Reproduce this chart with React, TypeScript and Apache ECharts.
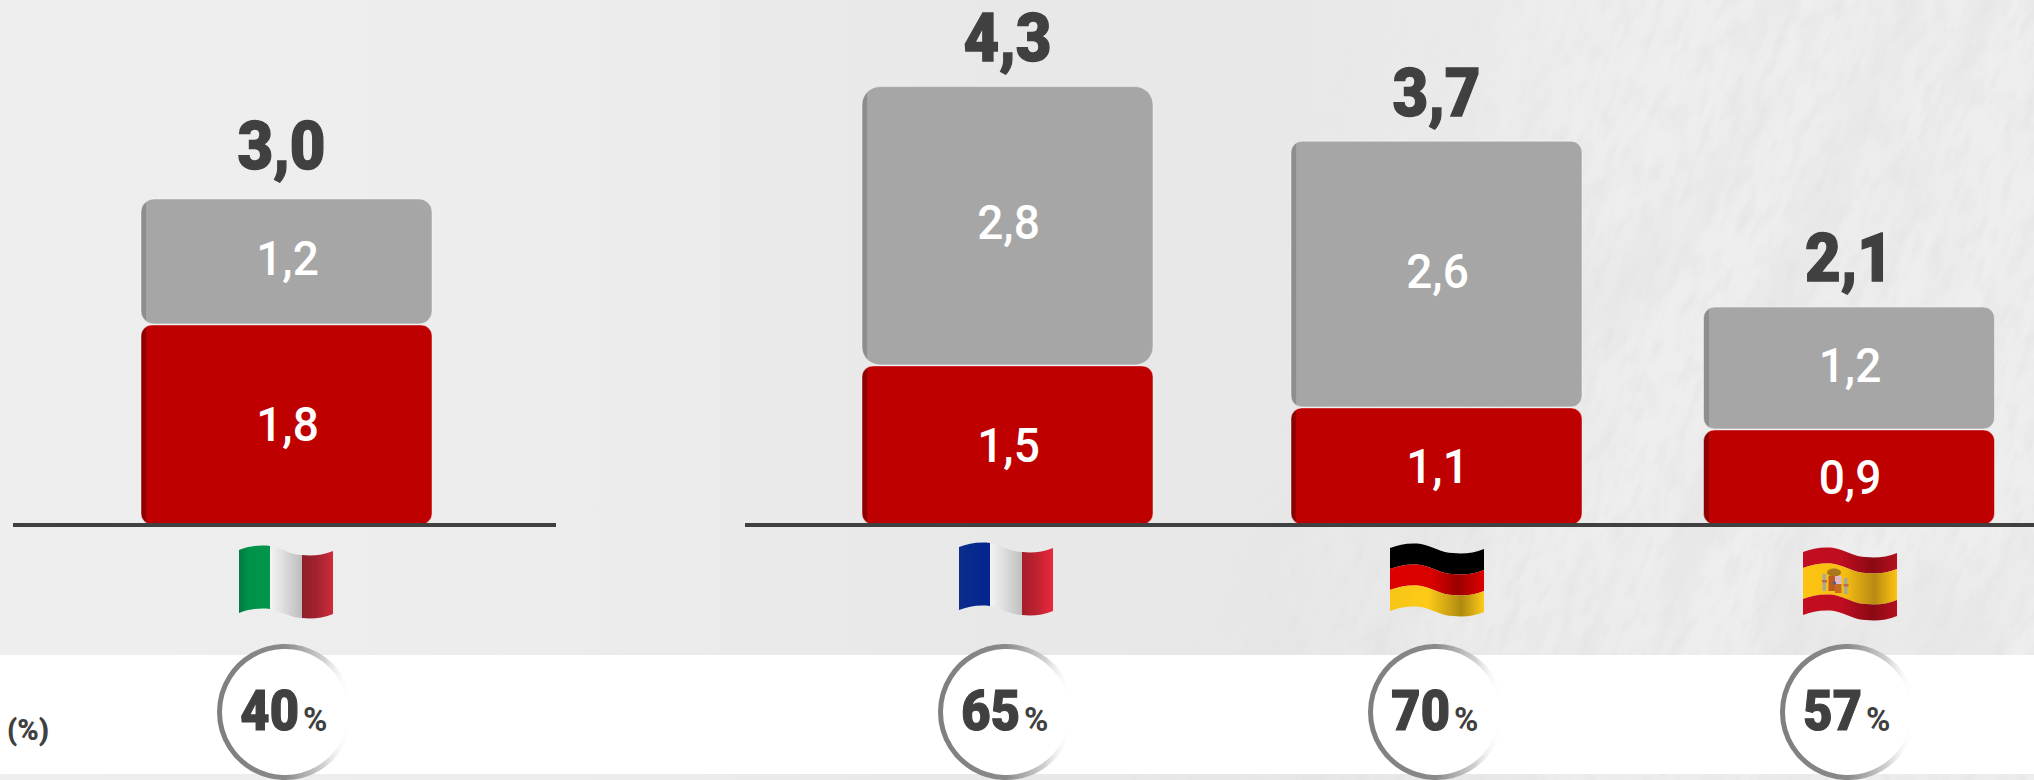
import React, { useEffect, useRef } from "react";
import * as echarts from "echarts";

const countries = ["Italia", "Francia", "Germania", "Spagna"];
// Printed figures
const redLabels = ["1,8", "1,5", "1,1", "0,9"];
const greyLabels = ["1,2", "2,8", "2,6", "1,2"];
const totalLabels = ["3,0", "4,3", "3,7", "2,1"];
const shareValues = ["40", "65", "70", "57"];
// Segment lengths as drawn in the picture (the source graphic is not strictly proportional)
const redLengths = [1.91, 1.52, 1.12, 0.91];
const greyLengths = [1.2, 2.66, 2.54, 1.17];

const W = 2034;
const H = 780;
const BASE = 525;
const gridX: [number, number][] = [
  [17, 556],
  [745, 1270],
  [1209, 1664],
  [1664, 2034],
];
const flagPos: [number, number][] = [
  [239, 545],
  [959, 542],
  [1390, 543],
  [1803, 547],
];
const circleX = [285, 1006, 1436, 1848];
const greyCorner = [13, 18, 11, 11];
const totalShift: [number, number][] = [
  [-5, -4],
  [0, 0],
  [0, 0],
  [0, 0],
];
const FONT = "Roboto, sans-serif";
const DARK = "#404040";

const band = (a: number, b: number) =>
  `M0,${5 + a} C9,${1.5 + a} 20,${-0.5 + a} 31,${1 + a} C42,${3 + a} 52,${10 + a} 63,${10 + a} C72,${11 + a} 84,${10.5 + a} 94,${6 + a} ` +
  `L94,${6 + b} C84,${10.5 + b} 72,${11 + b} 63,${10 + b} C52,${10 + b} 42,${3 + b} 31,${1 + b} C20,${-0.5 + b} 9,${1.5 + b} 0,${5 + b} Z`;

const reg = (n: string, d: string) => {
  echarts.graphic.registerShape(n, echarts.graphic.extendPath(d as any, {}) as any);
};
reg("vStripe1", "M0,5 C9,1.5 20,-0.5 31,1 L31,64 C20,62.5 9,64.5 0,68 Z");
reg("vStripe2", "M31,1 C42,3 52,10 63,10 L63,73 C52,73 42,66 31,64 Z");
reg("vStripe3", "M63,10 C72,11 84,10.5 94,6 L94,69 C84,73.5 72,74 63,73 Z");
reg("hBandA", band(0, 21));
reg("hBandB", band(21, 42));
reg("hBandC", band(42, 63));
reg("hBandS1", band(0, 16));
reg("hBandS2", band(16, 47));
reg("hBandS3", band(47, 63));

const lg = (stops: [number, string][]) =>
  new echarts.graphic.LinearGradient(0, 0, 1, 0, stops.map(([offset, color]) => ({ offset, color })));

const flagGroup = (i: number, parts: [string, [number, string][]][], extra: any[] = []) => ({
  type: "group",
  x: flagPos[i][0],
  y: flagPos[i][1],
  z: 10,
  children: [
    ...parts.map(([type, stops]) => ({ type, style: { fill: lg(stops) } })),
    ...extra,
  ],
});

const coat = [
  { type: "rect", shape: { x: 19.5, y: 27, width: 3.5, height: 17 }, style: { fill: "#a9ab8e" } },
  { type: "rect", shape: { x: 41, y: 31, width: 3.5, height: 16 }, style: { fill: "#a9ab8e" } },
  { type: "rect", shape: { x: 19, y: 33, width: 5, height: 2.5 }, style: { fill: "#c06a50" } },
  { type: "rect", shape: { x: 40.5, y: 37, width: 5, height: 2.5 }, style: { fill: "#c06a50" } },
  { type: "ellipse", shape: { cx: 31, cy: 25.5, rx: 7, ry: 4 }, style: { fill: "#a9781c" } },
  { type: "rect", shape: { x: 25.5, y: 29, width: 6.5, height: 15 }, style: { fill: "#bb5a22" } },
  { type: "rect", shape: { x: 32, y: 29, width: 6.5, height: 8 }, style: { fill: "#dfb9c8" } },
  { type: "rect", shape: { x: 32, y: 37, width: 6.5, height: 9 }, style: { fill: "#c96a22" } },
  { type: "circle", shape: { cx: 31.5, cy: 36, r: 1.6 }, style: { fill: "#4a5f8a" } },
];

const flags = [
  flagGroup(0, [
    ["vStripe1", [[0, "#007a43"], [0.3, "#009249"], [1, "#00964a"]]],
    ["vStripe2", [[0, "#f4f4f4"], [1, "#bdbdbd"]]],
    ["vStripe3", [[0, "#8f1f2a"], [0.45, "#a0222e"], [1, "#cf2b3b"]]],
  ]),
  flagGroup(1, [
    ["vStripe1", [[0, "#0b2d8c"], [1, "#02258f"]]],
    ["vStripe2", [[0, "#f4f4f4"], [1, "#c0c0c0"]]],
    ["vStripe3", [[0, "#a51e2a"], [0.45, "#bd2230"], [1, "#ea293d"]]],
  ]),
  flagGroup(2, [
    ["hBandA", [[0, "#000000"], [1, "#000000"]]],
    ["hBandB", [[0, "#dd0000"], [0.45, "#d80000"], [0.72, "#9c0000"], [1, "#dd0000"]]],
    ["hBandC", [[0, "#f6c516"], [0.4, "#fdcb17"], [0.76, "#b08a10"], [1, "#fdcb17"]]],
  ]),
  flagGroup(3, [
    ["hBandS1", [[0, "#c30d20"], [0.4, "#c00d20"], [0.74, "#8a0a14"], [1, "#b50f1e"]]],
    ["hBandS2", [[0, "#fdc411"], [0.45, "#f5bd12"], [0.76, "#b88a12"], [1, "#fdc411"]]],
    ["hBandS3", [[0, "#c30d20"], [0.4, "#c00d20"], [0.74, "#8a0a14"], [1, "#b50f1e"]]],
  ], coat),
];

const circles = shareValues.flatMap((v, i) => {
  const cx = circleX[i];
  return [
    {
      type: "circle",
      z: 8,
      shape: { cx, cy: 712, r: 65.5 },
      style: {
        fill: "#ffffff",
        stroke: lg([[0, "#7f7f7f"], [0.5, "#8a8a8a"], [0.8, "#d2d2d2"], [1, "rgba(255,255,255,0)"]]),
        lineWidth: 5,
      },
    },
    {
      type: "text",
      z: 9,
      x: cx + 14,
      y: 711,
      scaleX: 0.92,
      style: { text: v, fill: DARK, stroke: DARK, lineWidth: 1.2, font: `900 55px ${FONT}`, textAlign: "right", textVerticalAlign: "middle" },
    },
    {
      type: "text",
      z: 9,
      x: cx + 18,
      y: 719,
      style: { text: "%", fill: DARK, font: `bold 33px ${FONT}`, textAlign: "left", textVerticalAlign: "middle" },
    },
  ];
});

const mkBarStyle = (dark: string, main: string, corner: number) => ({
  color: new echarts.graphic.LinearGradient(0, 0, 1, 0, [
    { offset: 0, color: dark },
    { offset: 0.018, color: dark },
    { offset: 0.019, color: main },
    { offset: 1, color: main },
  ]),
  borderRadius: corner,
  borderColor: "rgba(255,255,255,0.45)",
  borderWidth: 1,
});

function labelSeries(i: number) {
  const texts = [redLabels[i], greyLabels[i], totalLabels[i]];
  const r = redLengths[i];
  const g = greyLengths[i];
  return {
    type: "custom",
    name: "labels",
    xAxisIndex: i,
    yAxisIndex: i,
    z: 5,
    clip: false,
    silent: true,
    data: [
      [0, r / 2],
      [0, r + g / 2],
      [0, r + g],
    ],
    renderItem: (params: any, api: any) => {
      const p = api.coord([api.value(0), api.value(1)]);
      const k = params.dataIndex;
      const total = k === 2;
      return {
        type: "text",
        x: p[0] + (total ? totalShift[i][0] : 1),
        y: p[1] + (total ? totalShift[i][1] - 48 : k === 1 ? -3 : 0),
        scaleX: total ? 0.92 : 0.94,
        style: {
          text: texts[k],
          fill: total ? DARK : "#ffffff",
          stroke: total ? DARK : undefined,
          lineWidth: total ? 1.4 : 0,
          font: total ? `900 67px ${FONT}` : `500 49px ${FONT}`,
          textAlign: "center",
          textVerticalAlign: "middle",
        },
      };
    },
  };
}

function buildOption() {
  const series: any[] = [];
  countries.forEach((c, i) => {
    const common = { type: "bar", xAxisIndex: i, yAxisIndex: i, stack: c, barWidth: 292 };
    series.push({
      ...common,
      name: "red",
      data: [redLengths[i]],
      itemStyle: mkBarStyle("#8c0000", "#bf0000", 11),
    });
    series.push({
      ...common,
      name: "grey",
      data: [greyLengths[i]],
      itemStyle: mkBarStyle("#8e8e8e", "#a6a6a6", greyCorner[i]),
    });
    series.push(labelSeries(i));
  });
  return {
    animation: false,
    backgroundColor: "transparent",
    grid: gridX.map(([a, b]) => ({ left: a, width: b - a, top: 0, height: BASE, containLabel: false })),
    xAxis: countries.map((c, i) => ({
      type: "category",
      gridIndex: i,
      data: [c],
      z: 6,
      axisTick: { show: false },
      axisLabel: { show: false },
      axisLine: { show: true, lineStyle: { color: DARK, width: 4, cap: "butt" } },
    })),
    yAxis: countries.map((_, i) => ({
      type: "value",
      gridIndex: i,
      min: 0,
      max: 5,
      show: false,
      splitLine: { show: false },
    })),
    series,
    graphic: [
      { type: "rect", z: 0, shape: { x: 0, y: 655, width: W, height: 119 }, style: { fill: "#ffffff" } },
      { type: "line", z: 6, shape: { x1: 13, y1: BASE, x2: 18, y2: BASE }, style: { stroke: DARK, lineWidth: 4 } },
      ...flags,
      ...circles,
      {
        type: "text",
        z: 9,
        x: 7,
        y: 730,
        style: { text: "(%)", fill: DARK, font: `900 29px ${FONT}`, textAlign: "left", textVerticalAlign: "middle" },
      },
    ],
  };
}

const textureSvg = `<svg xmlns='http://www.w3.org/2000/svg' width='1000' height='800'><filter id='f' filterUnits='userSpaceOnUse' x='-800' y='-800' width='2600' height='2600'><feTurbulence type='fractalNoise' baseFrequency='0.03 0.09' numOctaves='6' seed='11'/><feColorMatrix values='0 0 0 0 0.62  0 0 0 0 0.62  0 0 0 0 0.62  0 0 0 1.2 -0.5'/></filter><filter id='g' filterUnits='userSpaceOnUse' x='-800' y='-800' width='2600' height='2600'><feTurbulence type='fractalNoise' baseFrequency='0.004 0.016' numOctaves='3' seed='4'/><feColorMatrix values='0 0 0 0 0.6  0 0 0 0 0.6  0 0 0 0 0.6  0 0 0 1.3 -0.55'/></filter><g transform='rotate(-68 500 400)'><rect x='-500' y='-500' width='2000' height='1800' filter='url(#g)'/><rect x='-500' y='-500' width='2000' height='1800' filter='url(#f)'/></g></svg>`;

export default function App() {
  const ref = useRef<HTMLDivElement>(null);
  useEffect(() => {
    if (!ref.current) return;
    const chart = echarts.init(ref.current, undefined, { renderer: "svg" });
    chart.setOption(buildOption() as any);
    return () => chart.dispose();
  }, []);
  return (
    <div style={{ position: "absolute", left: 0, top: 0, width: W, height: H, overflow: "hidden", background: "linear-gradient(90deg,#eeeeee 0,#ededed 500px,#e8e8e8 1000px,#e8e8e8 1300px,#eeeeee 1600px,#eeeeee 2034px)" }}>
      <div
        style={{
          position: "absolute",
          left: W - 1000,
          top: 0,
          width: 1000,
          height: H,
          backgroundImage: `url("data:image/svg+xml,${encodeURIComponent(textureSvg)}")`,
          WebkitMaskImage: "linear-gradient(110deg,transparent 25%,#000 50%)",
          maskImage: "linear-gradient(110deg,transparent 25%,#000 50%)",
          opacity: 0.4,
        }}
      />
      <div ref={ref} style={{ position: "absolute", left: 0, top: 0, width: W, height: H }} />
    </div>
  );
}
